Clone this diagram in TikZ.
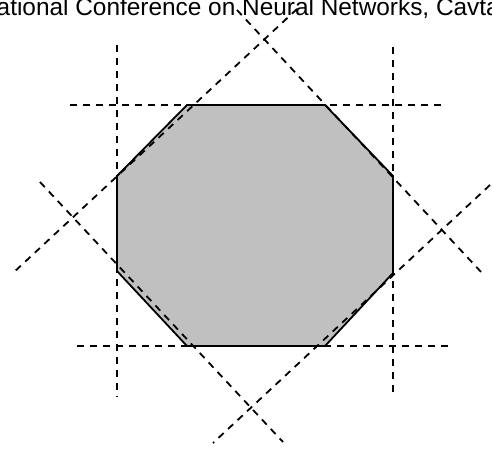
\documentclass[tikz,border=0pt]{standalone}
\usepackage{fontspec}
\setmainfont{Liberation Sans}
\begin{document}
\begin{tikzpicture}[x=1pt,y=-1pt,
  guide/.style={line width=1.8pt,dash pattern=on 7pt off 6pt},
  edge/.style={line width=1.8pt,line join=miter},
  region/.style={fill={rgb,255:red,192;green,192;blue,192}}]
\useasboundingbox (0,0) rectangle (492,450);
% title (clipped by the page edge, as in the reference)
\node[anchor=base west,inner sep=0pt,font=\fontsize{24.4}{28}\selectfont] (title) at (-3.5,15) {ational Conference on Neural Networks, Cavta};
% octagon vertices
\coordinate (p1) at (187,105);
\coordinate (p2) at (325,105);
\coordinate (p3) at (393,176);
\coordinate (p4) at (393,273);
\coordinate (p5) at (325,346);
\coordinate (p6) at (187,346);
\coordinate (p7) at (117,271);
\coordinate (p8) at (117,176);
\fill[region] (p1)--(p2)--(p3)--(p4)--(p5)--(p6)--(p7)--(p8)--cycle;
% guide lines end points
\coordinate (h1a) at (70,105);  \coordinate (h1b) at (446,105);
\coordinate (h2a) at (77,346);  \coordinate (h2b) at (448,346);
\coordinate (v1a) at (117,45);  \coordinate (v1b) at (117,397);
\coordinate (v2a) at (393,47);  \coordinate (v2b) at (393,398);
\coordinate (aa) at (297,9);    \coordinate (ab) at (13,273);
\coordinate (ba) at (237,10);   \coordinate (bb) at (482,273);
\coordinate (ca) at (40,182);   \coordinate (cb) at (283,442);
\coordinate (da) at (490,185);  \coordinate (db) at (213,443);
\draw[guide] (h1a)--(h1b);
\draw[guide] (h2a)--(h2b);
\draw[guide] (v1a)--(v1b);
\draw[guide] (v2a)--(v2b);
\draw[guide] (aa)--(ab);
\draw[guide] (ba)--(bb);
\draw[guide] (ca)--(cb);
\draw[guide] (da)--(db);
\draw[edge] (p1)--(p2)--(p3)--(p4)--(p5)--(p6)--(p7)--(p8)--cycle;
\end{tikzpicture}
\end{document}
